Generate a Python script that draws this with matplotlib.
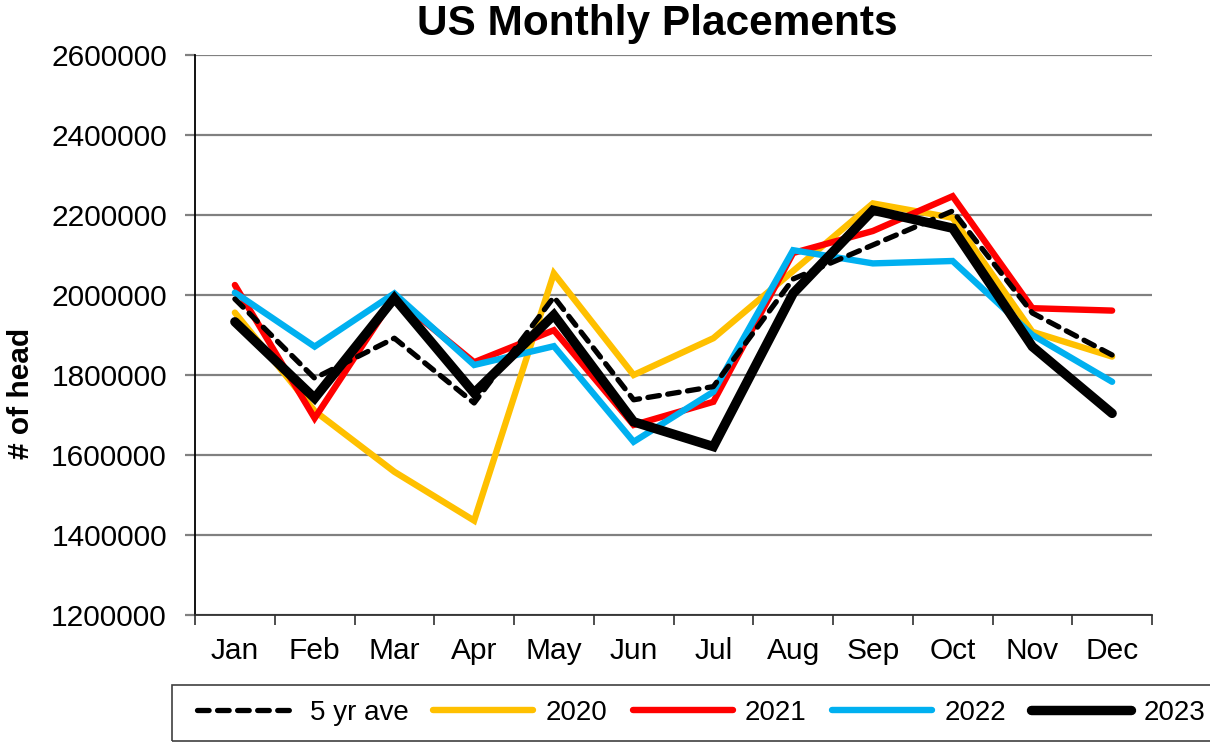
import matplotlib
matplotlib.use('Agg')
import matplotlib.pyplot as plt
from matplotlib.ticker import FuncFormatter, FixedLocator
from matplotlib.patches import Rectangle

plt.rcParams['font.family'] = ['Liberation Sans', 'DejaVu Sans']

months = ['Jan', 'Feb', 'Mar', 'Apr', 'May', 'Jun', 'Jul', 'Aug', 'Sep', 'Oct', 'Nov', 'Dec']

ave_5yr = [1990000, 1792000, 1892000, 1730000, 1995000, 1738000, 1771000, 2040000, 2125000, 2210000, 1955000, 1850000]
y2020 = [1956000, 1710000, 1558000, 1436000, 2054000, 1800000, 1892000, 2060000, 2229000, 2193000, 1908000, 1846000]
y2021 = [2025000, 1692000, 1995000, 1832000, 1912000, 1675000, 1733000, 2105000, 2160000, 2247000, 1967000, 1961000]
y2022 = [2006000, 1871000, 2004000, 1825000, 1872000, 1633000, 1758000, 2112000, 2079000, 2085000, 1900000, 1783000]
y2023 = [1933000, 1742000, 1992000, 1755000, 1950000, 1683000, 1621000, 2004000, 2212000, 2167000, 1871000, 1704000]

W, H = 1210, 744
fig = plt.figure(figsize=(W / 100, H / 100), dpi=100)
ax = fig.add_axes([195 / W, 1 - 615 / H, (1152 - 195) / W, (615 - 55) / H])

x = list(range(len(months)))
l20, = ax.plot(x, y2020, color='#FFC000', lw=4.6, solid_capstyle='round', solid_joinstyle='miter', zorder=3)
l21, = ax.plot(x, y2021, color='#FF0000', lw=4.6, solid_capstyle='round', solid_joinstyle='miter', zorder=4)
l22, = ax.plot(x, y2022, color='#00B0F0', lw=4.6, solid_capstyle='round', solid_joinstyle='miter', zorder=5)
lave, = ax.plot(x, ave_5yr, color='black', lw=3.8, ls=(0, (2.2, 1.6)), dash_capstyle='round', zorder=6)
l23, = ax.plot(x, y2023, color='black', lw=6.8, solid_capstyle='round', solid_joinstyle='miter', zorder=7)

ax.set_xlim(-0.5, 11.5)
ax.set_ylim(1200000, 2600000)
ax.set_yticks(range(1200000, 2600001, 200000))
ax.yaxis.set_major_formatter(FuncFormatter(lambda v, p: '%d' % v))
ax.grid(axis='y', color='#808080', lw=1.6, zorder=0)

ax.xaxis.set_major_locator(FixedLocator([i - 0.5 for i in range(13)]))
ax.xaxis.set_minor_locator(FixedLocator(x))
ax.set_xticklabels([], minor=False)
ax.set_xticklabels(months, minor=True)
ax.tick_params(axis='x', which='major', length=7.5, width=1.2, color='#303030', direction='out')
ax.tick_params(axis='x', which='minor', length=0, labelsize=21.5, pad=16)
ax.tick_params(axis='y', length=7.2, width=1.6, labelsize=21.5, pad=13, color='#808080')

for s in ['top', 'right']:
    ax.spines[s].set_visible(False)
ax.spines['left'].set_linewidth(1.3)
ax.spines['bottom'].set_color('#303030')
ax.spines['bottom'].set_linewidth(1.3)

fig.text(657 / W, 1 - 24 / H, 'US Monthly Placements', fontsize=30.5, fontweight='bold',
         ha='center', va='center')
fig.text(21 / W, 1 - 393 / H, '# of head', fontsize=21.5, fontweight='bold',
         rotation=90, ha='center', va='center')

# legend box (extends past the right edge like the original)
fig.patches.append(Rectangle((172 / W, 1 - 741 / H), (1230 - 172) / W, 56 / H,
                             transform=fig.transFigure, fill=False,
                             edgecolor='#404040', lw=1.2))
leg = fig.legend([lave, l20, l21, l22, l23], ['5 yr ave', '2020', '2021', '2022', '2023'],
                 loc='center left', bbox_to_anchor=(197 / W, 1 - 713 / H), ncol=5, fontsize=20,
                 handlelength=3.6, handletextpad=0.45, columnspacing=0.9,
                 frameon=False, borderpad=0, borderaxespad=0)

fig.savefig('out.png', dpi=100)
